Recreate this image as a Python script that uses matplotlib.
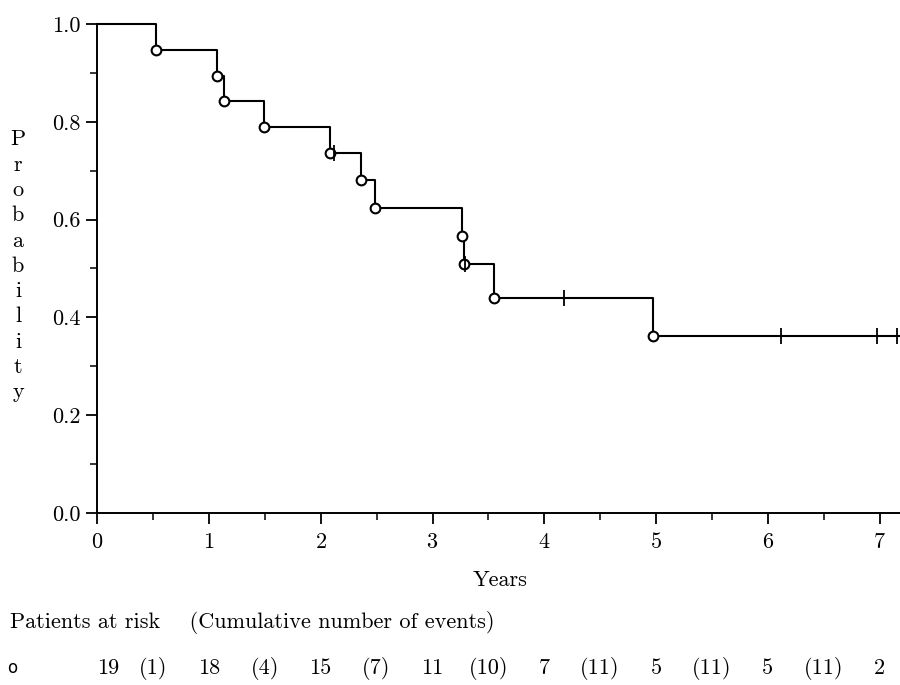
import matplotlib
matplotlib.use("Agg")
import matplotlib.pyplot as plt
from matplotlib.ticker import MultipleLocator, FormatStrFormatter

# Kaplan-Meier estimate
event_times = [0.53, 1.07, 1.14, 1.49, 2.08, 2.36, 2.49, 3.26, 3.28, 3.55, 4.97]
survival = [0.947, 0.894, 0.842, 0.789, 0.737, 0.680, 0.623, 0.566, 0.509, 0.440, 0.362]
censor_times = [2.12, 3.29, 4.18, 6.12, 6.97, 7.15]
end_time = 7.18

# risk table
risk_years = [0, 1, 2, 3, 4, 5, 6, 7]
at_risk = [19, 18, 15, 11, 7, 5, 5, 2]
cum_events = [1, 4, 7, 10, 11, 11, 11]

plt.rcParams['font.family'] = ['cmr10', 'DejaVu Serif']
plt.rcParams['axes.formatter.use_mathtext'] = True
plt.rcParams['font.size'] = 16


def surv_at(t):
    s = 1.0
    for et, sv in zip(event_times, survival):
        if et <= t:
            s = sv
    return s


fig = plt.figure(figsize=(9, 6.85), dpi=100)
ax = fig.add_axes([97 / 900, 172 / 685, 1 - 97 / 900, (513 - 24) / 685])

times = [0] + event_times + [end_time]
values = [1.0] + survival + [survival[-1]]
ax.step(times, values, where='post', color='black', lw=1.5, clip_on=False)
ax.plot(event_times, survival, 'o', mfc='white', mec='black', ms=7, mew=1.5,
        clip_on=False)
ax.plot(censor_times, [surv_at(t) for t in censor_times], '|', color='black',
        ms=12, mew=1.3, clip_on=False)

ax.set_xlim(0, end_time)
ax.set_ylim(0, 1.0)
for side in ['top', 'right']:
    ax.spines[side].set_visible(False)
for side in ['left', 'bottom']:
    ax.spines[side].set_linewidth(1.4)

ax.xaxis.set_major_locator(MultipleLocator(1))
ax.xaxis.set_minor_locator(MultipleLocator(0.5))
ax.yaxis.set_major_locator(MultipleLocator(0.2))
ax.yaxis.set_minor_locator(MultipleLocator(0.1))
ax.yaxis.set_major_formatter(FormatStrFormatter('%.1f'))
ax.tick_params(which='major', length=8, width=1.3, direction='out', labelsize=16, pad=4)
ax.tick_params(axis='x', which='major', pad=6)
ax.tick_params(which='minor', length=5, width=1.1, direction='out')

fig.text(500 / 900, 1 - 580 / 685, 'Years', ha='center', va='center', fontsize=16)
fig.text(18 / 900, 1 - 266 / 685, '\n'.join('Probability'), ha='center', va='center',
         fontsize=16, linespacing=1.37)

fig.text(10 / 900, 1 - 622 / 685, 'Patients at risk    (Cumulative number of events)',
         ha='left', va='center', fontsize=16)

row_y = 1 - 668 / 685
fig.text(12 / 900, row_y, 'o', ha='center', va='center', fontsize=12,
         family='DejaVu Sans')
for i, (yr, n) in enumerate(zip(risk_years, at_risk)):
    xf = (97 + yr * 111.8) / 900
    fig.text(xf + (0.012 if i == 0 else 0), row_y, str(n), ha='center', va='center',
             fontsize=16)
for i, c in enumerate(cum_events):
    xf = (97 + (risk_years[i] + 0.5) * 111.8) / 900
    fig.text(xf, row_y, '(%d)' % c, ha='center', va='center', fontsize=16)

fig.savefig('out.png', dpi=100)
